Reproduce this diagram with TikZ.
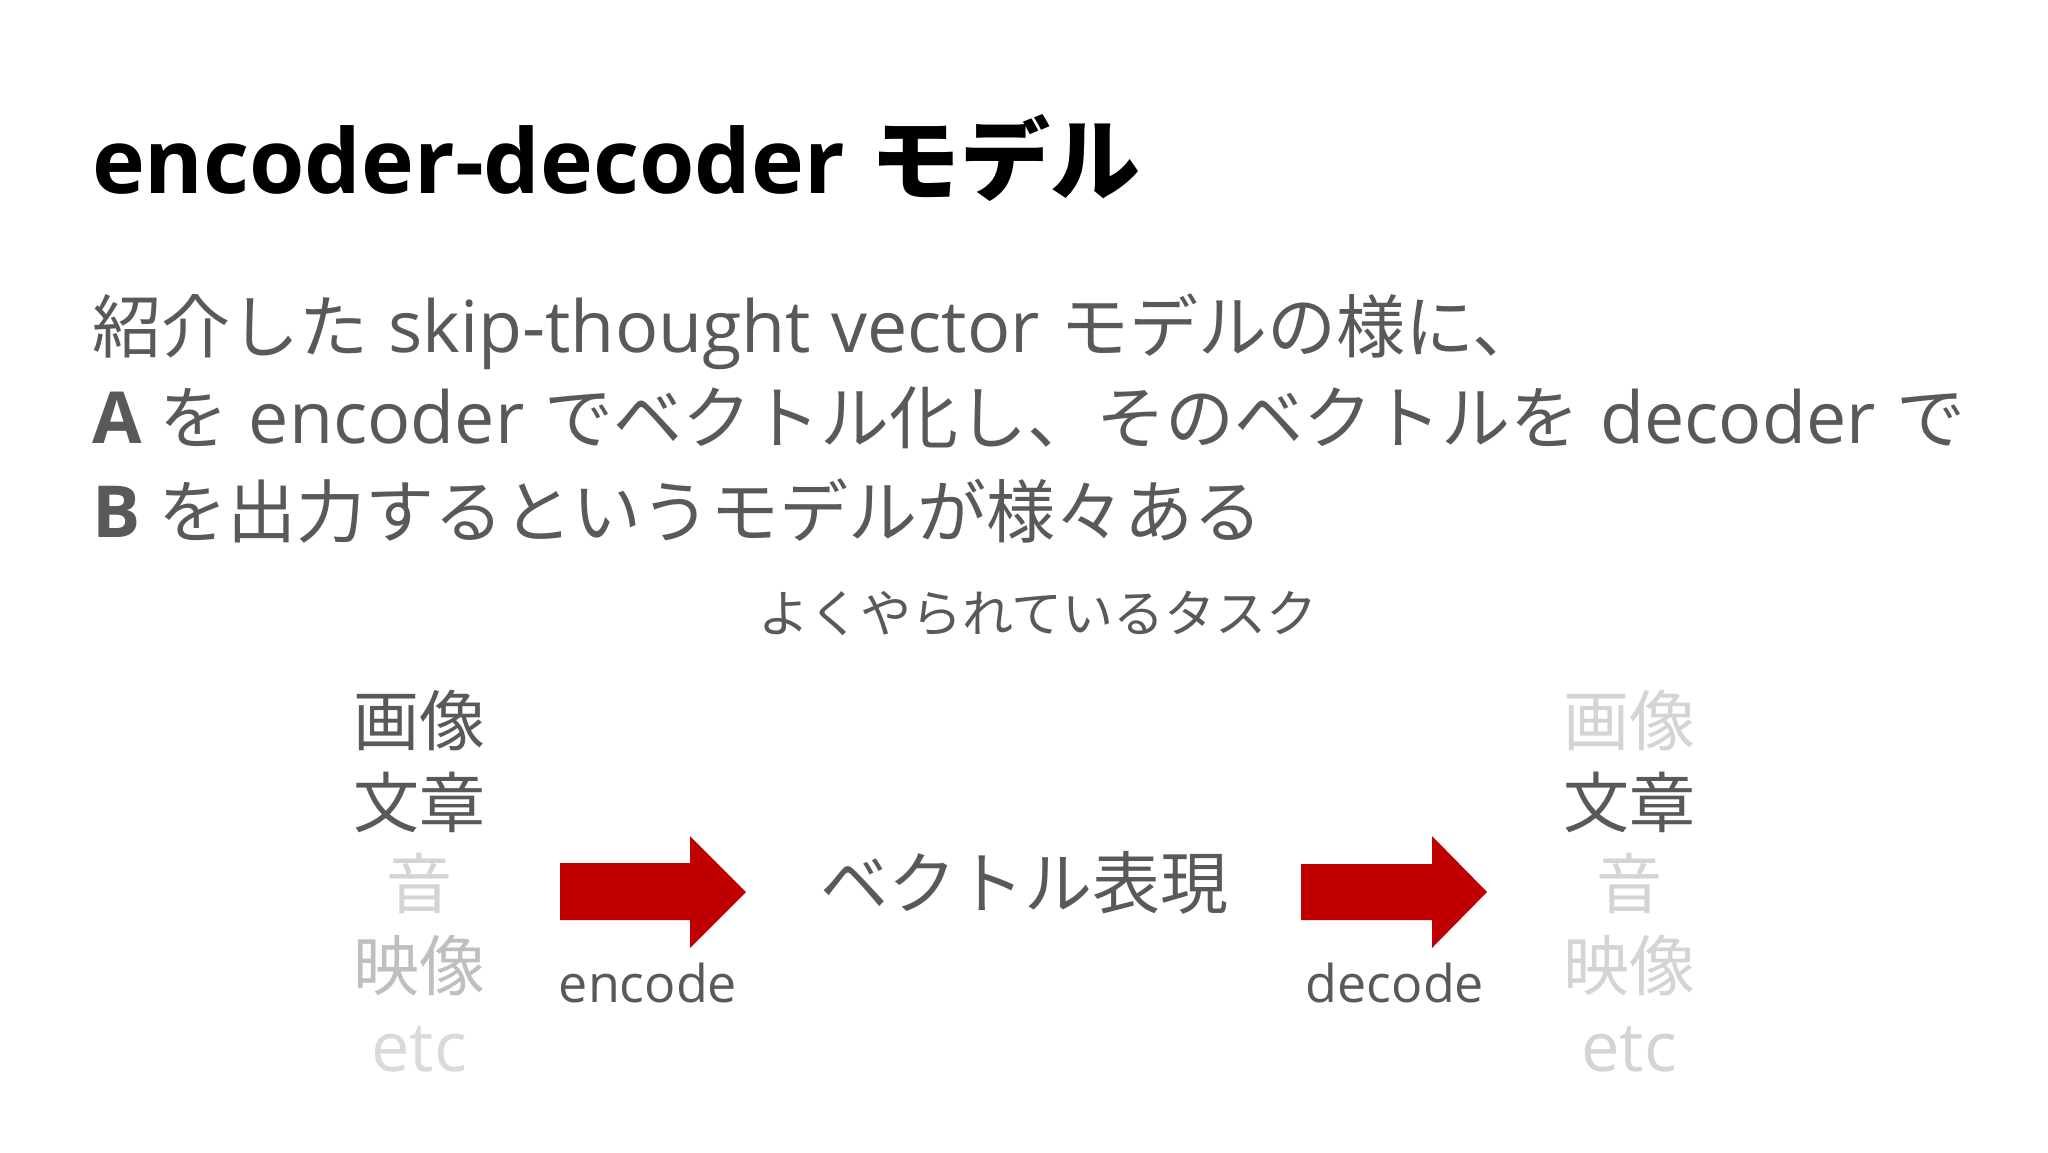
\documentclass[tikz,border=0pt]{standalone}
\usepackage{fontspec}
\setmainfont{Open Sans}
\newfontfamily\jp{Noto Sans CJK JP}
\newfontfamily\lat[Scale=1.04,WordSpace=1.1]{Open Sans}
\newcommand\setfs[1]{\fontsize{#1}{#1}\selectfont}
\definecolor{txt}{HTML}{595959}
\definecolor{faint}{HTML}{D4D4D4}
\definecolor{mid}{HTML}{BFBFBF}
\definecolor{faintest}{HTML}{DADADA}
\definecolor{arrowred}{HTML}{C00000}
\tikzset{
  txtnode/.style={inner sep=0pt, outer sep=0pt, anchor=base west, text=txt},
  colitem/.style={inner sep=0pt, outer sep=0pt, anchor=base, font=\jp\setfs{66}},
  blockarrow/.style={fill=arrowred, draw=none}
}
\begin{document}
\begin{tikzpicture}[x=1pt,y=-1pt]
\useasboundingbox (0,0) rectangle (2048,1152);
\fill[white] (0,0) rectangle (2048,1152);

% title
\node[txtnode, text=black] (title) at (92,193) {{\setfs{86}\lat\bfseries encoder-decoder }{\setfs{90}\jp\bfseries モデル}};

% body
\node[txtnode] (line1) at (92,352) {\setfs{69}\jp 紹介した\lat{} skip-thought vector \jp モデルの様に、};
\node[txtnode] (line2) at (92,443) {\setfs{69}{\lat\bfseries A} \jp を\lat{} encoder \jp でベクトル化し、そのベクトルを\lat{} decoder \jp で};
\node[txtnode] (line3) at (92,537) {\setfs{69}{\lat\bfseries B} \jp を出力するというモデルが様々ある};

% subtitle
\node[inner sep=0pt, anchor=base, text=txt] (task) at (1038,632) {\jp\setfs{51}よくやられているタスク};

% left column
\node[colitem, text=txt] (l1) at (419,745) {画像};
\node[colitem, text=txt] (l2) at (419,827) {文章};
\node[colitem, text=faint] (l3) at (419,908) {音};
\node[colitem, text=mid] (l4) at (419,990) {映像};
\node[colitem, text=faintest] (l5) at (419,1071) {\lat etc};

% right column
\node[colitem, text=faint] (r1) at (1629,745) {画像};
\node[colitem, text=txt] (r2) at (1629,827) {文章};
\node[colitem, text=faint] (r3) at (1629,908) {音};
\node[colitem, text=faint] (r4) at (1629,990) {映像};
\node[colitem, text=faint] (r5) at (1629,1071) {\lat etc};

% centre
\node[inner sep=0pt, anchor=base, text=txt] (vec) at (1024,908) {\jp\setfs{68}ベクトル表現};

% arrows
\fill[blockarrow] (560,863) -- (690,863) -- (690,836) -- (746,892) -- (690,948) -- (690,920) -- (560,920) -- cycle;
\fill[blockarrow] (1301,864) -- (1432,864) -- (1432,836) -- (1487,892) -- (1432,948) -- (1432,920) -- (1301,920) -- cycle;

\node[inner sep=0pt, anchor=base, text=txt] (enc) at (648,1002) {\lat\setfs{50}encode};
\node[inner sep=0pt, anchor=base, text=txt] (dec) at (1395,1002) {\lat\setfs{50}decode};
\end{tikzpicture}
\end{document}
